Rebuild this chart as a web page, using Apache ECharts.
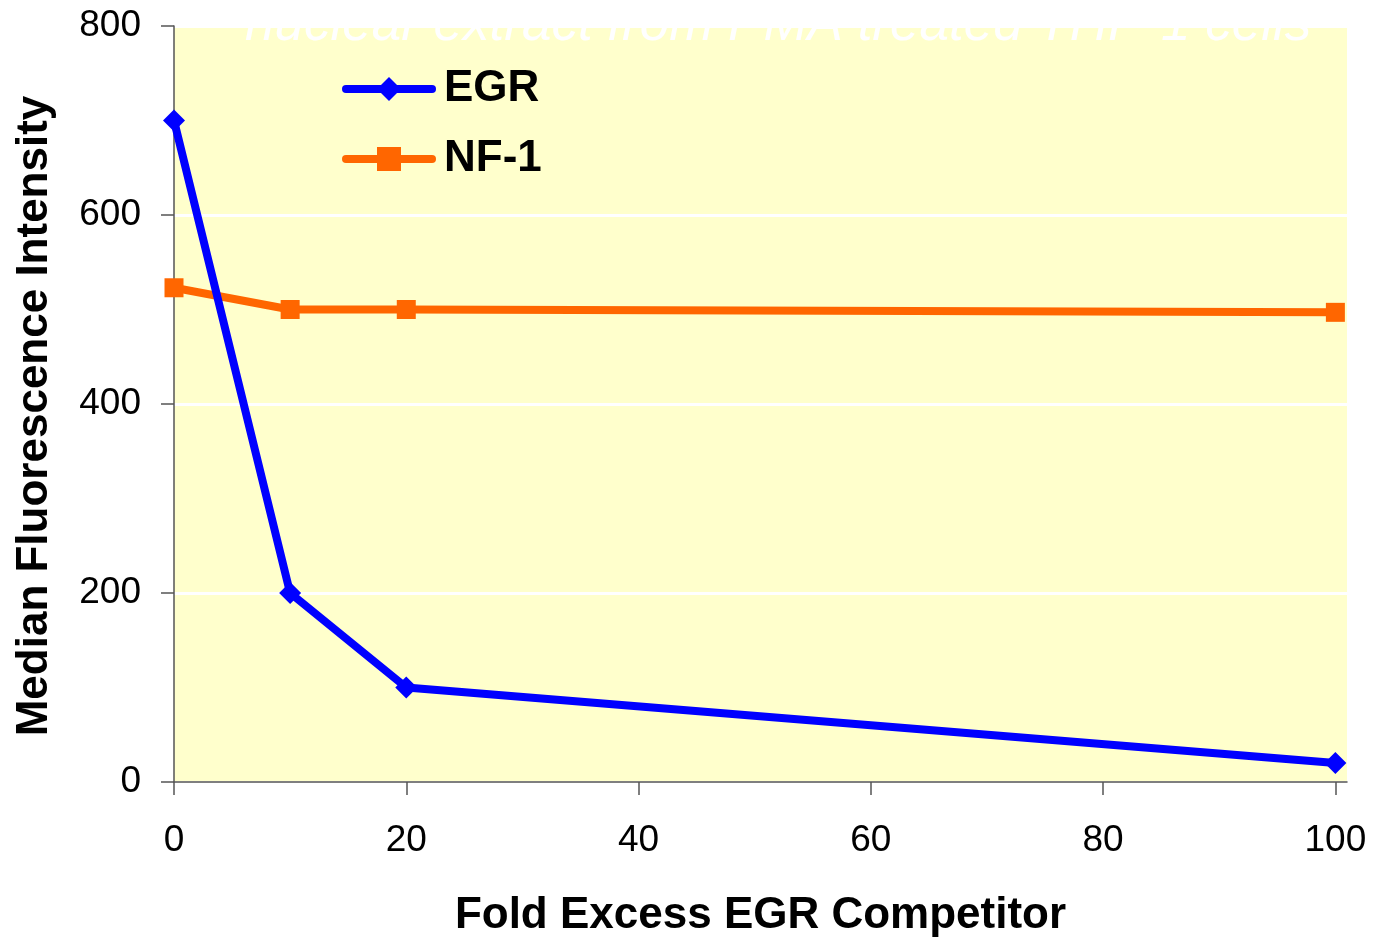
<!DOCTYPE html>
<html>
<head>
<meta charset="utf-8">
<script src="https://cdn.jsdelivr.net/npm/echarts@6/dist/echarts.min.js"></script>
<style>
  html, body { margin: 0; padding: 0; background: #ffffff; }
  #chart { width: 1375px; height: 938px; }
</style>
</head>
<body>
<div id="chart"></div>
<script>
// Competitor fold excess (x) and median fluorescence readings per probe
const foldExcess = [0, 10, 20, 100];
const egrValues = [700, 200, 100, 20];
const nf1Values = [523, 500, 500, 497];
const xTicks = [0, 20, 40, 60, 80, 100];
const yTicks = [0, 200, 400, 600, 800];
const seriesNames = ['EGR', 'NF-1'];
const subtitleText = 'nuclear extract from PMA treated THP-1 cells';

const FONT = '"Liberation Sans", Arial, Helvetica, sans-serif';

const chart = echarts.init(document.getElementById('chart'), null, { renderer: 'canvas' });

const pairs = (xs, ys) => xs.map((x, i) => [x, ys[i]]);

chart.setOption({
  animation: false,
  backgroundColor: '#ffffff',
  title: {
    text: subtitleText,
    left: 240,
    top: -6,
    textStyle: {
      color: '#ffffff',
      fontFamily: FONT,
      fontStyle: 'italic',
      fontWeight: 'normal',
      fontSize: 53
    }
  },
  grid: {
    left: 174,
    top: 26,
    right: 28,
    bottom: 156,
    show: true,
    backgroundColor: '#FFFFCC',
    borderWidth: 0,
    containLabel: false,
    outerBoundsMode: 'none'
  },
  legend: {
    data: seriesNames,
    orient: 'vertical',
    left: 337,
    top: 62,
    itemWidth: 86,
    itemHeight: 30,
    itemGap: 26,
    lineStyle: { width: 8, cap: 'round' },
    textStyle: {
      color: '#000000',
      fontFamily: FONT,
      fontWeight: 'bold',
      fontSize: 44,
      padding: [0, 0, 0, 7]
    }
  },
  xAxis: {
    type: 'value',
    min: 0,
    max: 101,
    interval: 20,
    name: 'Fold Excess EGR Competitor',
    nameLocation: 'middle',
    nameGap: 112,
    nameTextStyle: {
      color: '#000000',
      fontFamily: FONT,
      fontWeight: 'bold',
      fontSize: 44
    },
    axisLine: { show: true, onZero: false, lineStyle: { color: '#555555', width: 1.5 } },
    axisTick: { show: true, length: 13, customValues: xTicks, lineStyle: { color: '#555555', width: 1.5 } },
    axisLabel: {
      customValues: xTicks,
      margin: 40,
      color: '#000000',
      fontFamily: FONT,
      fontSize: 37
    },
    splitLine: { show: false }
  },
  yAxis: {
    type: 'value',
    min: 0,
    max: 800,
    interval: 200,
    name: 'Median Fluorescence Intensity',
    nameLocation: 'middle',
    nameGap: 117,
    nameTextStyle: {
      color: '#000000',
      fontFamily: FONT,
      fontWeight: 'bold',
      fontSize: 44,
      padding: [0, 24, 0, 0]
    },
    axisLine: { show: true, lineStyle: { color: '#555555', width: 1.5 } },
    axisTick: { show: true, length: 13, customValues: yTicks, lineStyle: { color: '#555555', width: 1.5 } },
    axisLabel: {
      margin: 33,
      color: '#000000',
      fontFamily: FONT,
      fontSize: 37
    },
    splitLine: { show: true, lineStyle: { color: '#ffffff', width: 3 } }
  },
  series: [
    {
      name: seriesNames[0],
      type: 'line',
      data: pairs(foldExcess, egrValues),
      symbol: 'diamond',
      symbolSize: [22, 22],
      showAllSymbol: true,
      lineStyle: { color: '#0000FF', width: 8, cap: 'round', join: 'round' },
      itemStyle: { color: '#0000FF', borderWidth: 0 },
      z: 3
    },
    {
      name: seriesNames[1],
      type: 'line',
      data: pairs(foldExcess, nf1Values),
      symbol: 'rect',
      symbolSize: [19, 19],
      showAllSymbol: true,
      lineStyle: { color: '#FF6600', width: 8, cap: 'round', join: 'round' },
      itemStyle: { color: '#FF6600', borderWidth: 0 },
      z: 2
    }
  ]
});
</script>
</body>
</html>
